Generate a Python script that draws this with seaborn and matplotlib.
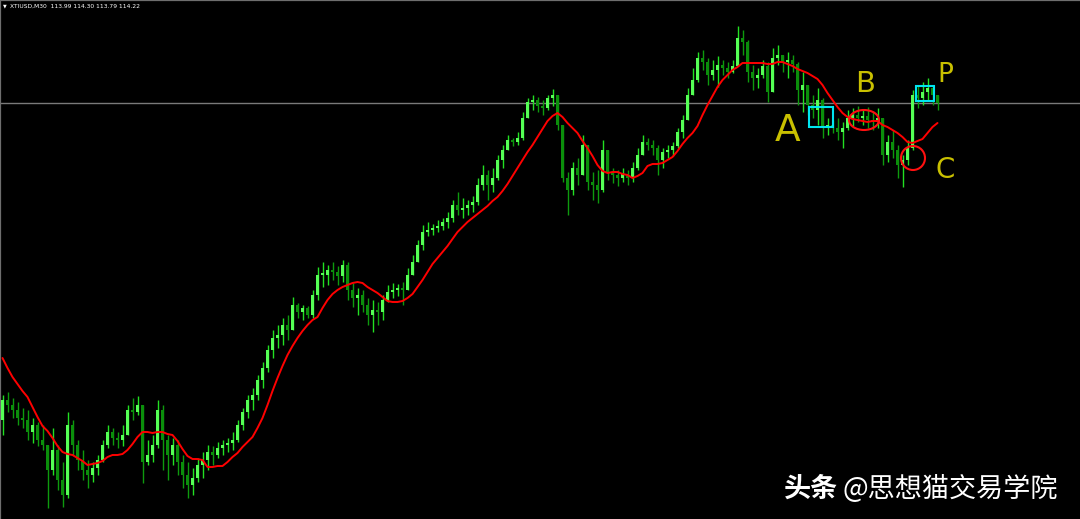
import numpy as np
import pandas as pd
import matplotlib.pyplot as plt
import matplotlib.patches as mpatches
import seaborn as sns

# XTIUSD M30 candles (prices)
first_open = 111.05
high = [111.30, 111.33, 111.27, 111.23, 111.17, 111.15, 111.07, 111.03, 111.00, 110.80,
        110.97, 110.80, 110.63, 111.13, 111.05, 110.85, 110.75, 110.65, 110.63, 110.70,
        110.85, 111.00, 110.97, 110.93, 111.00, 111.20, 111.27, 111.29, 111.20, 110.85,
        110.90, 111.25, 111.20, 110.90, 110.87, 110.85, 110.70, 110.63, 110.57, 110.67,
        110.73, 110.80, 110.79, 110.83, 110.85, 110.87, 110.93, 111.05, 111.17, 111.30,
        111.37, 111.50, 111.63, 111.80, 111.95, 112.00, 112.07, 112.10, 112.28, 112.22,
        112.20, 112.19, 112.35, 112.58, 112.63, 112.60, 112.63, 112.59, 112.65, 112.63,
        112.42, 112.37, 112.35, 112.27, 112.25, 112.23, 112.30, 112.40, 112.42, 112.41,
        112.43, 112.57, 112.70, 112.85, 113.00, 113.03, 113.01, 113.05, 113.07, 113.13,
        113.25, 113.33, 113.27, 113.25, 113.29, 113.47, 113.60, 113.55, 113.57, 113.70,
        113.80, 113.90, 113.87, 113.93, 114.13, 114.27, 114.30, 114.28, 114.25, 114.30,
        114.36, 114.27, 114.00, 113.53, 113.63, 113.67, 113.90, 113.75, 113.53, 113.55,
        113.85, 113.75, 113.57, 113.55, 113.57, 113.55, 113.63, 113.77, 113.90, 113.87,
        113.85, 113.80, 113.77, 113.80, 113.83, 113.97, 114.10, 114.37, 114.57, 114.73,
        114.75, 114.67, 114.65, 114.69, 114.65, 114.63, 114.65, 114.99, 114.95, 114.85,
        114.60, 114.57, 114.65, 114.63, 114.77, 114.80, 114.70, 114.73, 114.70, 114.63,
        114.53, 114.35, 114.30, 114.37, 114.27, 114.07, 114.05, 114.07, 114.03, 114.15,
        114.17, 114.19, 114.15, 114.18, 114.13, 114.17, 114.07, 113.90, 113.95, 113.80,
        113.70, 113.85, 114.35, 114.40, 114.43, 114.47, 114.40, 114.29]
low = [110.90, 111.13, 111.07, 111.00, 110.97, 110.85, 110.82, 110.79, 110.75, 110.17,
       110.50, 110.35, 110.18, 110.27, 110.70, 110.55, 110.45, 110.37, 110.43, 110.50,
       110.63, 110.77, 110.80, 110.77, 110.79, 110.95, 111.05, 111.10, 110.42, 110.60,
       110.63, 110.77, 110.55, 110.45, 110.60, 110.50, 110.37, 110.27, 110.30, 110.43,
       110.47, 110.55, 110.60, 110.67, 110.70, 110.73, 110.75, 110.83, 110.95, 111.07,
       111.15, 111.25, 111.37, 111.53, 111.67, 111.77, 111.80, 111.85, 112.05, 112.07,
       112.05, 112.07, 112.07, 112.25, 112.38, 112.40, 112.45, 112.40, 112.43, 112.25,
       112.18, 112.10, 112.13, 112.00, 111.93, 112.00, 112.05, 112.23, 112.27, 112.29,
       112.20, 112.37, 112.50, 112.63, 112.75, 112.89, 112.90, 112.93, 112.95, 112.97,
       113.03, 113.10, 113.07, 113.10, 113.13, 113.20, 113.35, 113.25, 113.33, 113.45,
       113.57, 113.77, 113.79, 113.80, 113.85, 114.07, 114.15, 114.13, 114.10, 114.15,
       114.19, 113.95, 113.43, 113.10, 113.30, 113.40, 113.53, 113.35, 113.25, 113.22,
       113.33, 113.45, 113.42, 113.39, 113.43, 113.40, 113.43, 113.55, 113.73, 113.75,
       113.70, 113.50, 113.57, 113.67, 113.69, 113.77, 113.87, 114.05, 114.30, 114.43,
       114.55, 114.40, 114.45, 114.38, 114.50, 114.47, 114.52, 114.63, 114.70, 114.43,
       114.35, 114.37, 114.47, 114.23, 114.35, 114.60, 114.53, 114.47, 114.53, 114.20,
       114.13, 114.10, 114.07, 114.00, 113.87, 113.90, 113.92, 113.85, 113.77, 113.95,
       113.99, 114.03, 114.00, 113.97, 113.95, 113.97, 113.60, 113.63, 113.67, 113.47,
       113.38, 113.60, 113.75, 114.17, 114.20, 114.25, 114.20, 114.15]
close = [111.25, 111.20, 111.15, 111.07, 111.05, 110.93, 111.00, 110.85, 110.80, 110.55,
         110.75, 110.45, 110.30, 111.00, 110.80, 110.65, 110.55, 110.50, 110.57, 110.65,
         110.80, 110.93, 110.87, 110.85, 110.90, 111.15, 111.13, 111.20, 110.63, 110.70,
         110.80, 111.15, 110.85, 110.70, 110.80, 110.63, 110.50, 110.40, 110.47, 110.60,
         110.65, 110.73, 110.70, 110.77, 110.80, 110.82, 110.85, 111.00, 111.13, 111.25,
         111.30, 111.45, 111.57, 111.75, 111.87, 111.90, 112.00, 111.95, 112.20, 112.13,
         112.17, 112.10, 112.30, 112.50, 112.50, 112.55, 112.53, 112.49, 112.60, 112.35,
         112.27, 112.30, 112.20, 112.10, 112.15, 112.13, 112.25, 112.33, 112.35, 112.37,
         112.35, 112.50, 112.63, 112.80, 112.93, 112.95, 112.97, 112.99, 113.03, 113.07,
         113.20, 113.15, 113.17, 113.20, 113.23, 113.40, 113.50, 113.40, 113.47, 113.65,
         113.75, 113.85, 113.83, 113.87, 114.07, 114.23, 114.25, 114.19, 114.17, 114.27,
         114.30, 114.00, 113.47, 113.35, 113.57, 113.50, 113.80, 113.43, 113.40, 113.35,
         113.75, 113.53, 113.50, 113.47, 113.51, 113.47, 113.57, 113.70, 113.83, 113.80,
         113.77, 113.65, 113.73, 113.75, 113.79, 113.93, 114.05, 114.30, 114.45, 114.67,
         114.63, 114.50, 114.55, 114.60, 114.57, 114.53, 114.59, 114.87, 114.83, 114.53,
         114.47, 114.50, 114.59, 114.33, 114.67, 114.70, 114.63, 114.65, 114.61, 114.35,
         114.40, 114.20, 114.15, 114.25, 113.97, 114.00, 113.97, 113.93, 113.97, 114.07,
         114.10, 114.07, 114.09, 114.05, 114.03, 114.07, 113.70, 113.83, 113.75, 113.60,
         113.65, 113.77, 114.30, 114.27, 114.33, 114.37, 114.30, 114.22]
# moving average (red line) as drawn on the chart
ma = [111.67, 111.57, 111.48, 111.41, 111.34, 111.28, 111.18, 111.08, 110.99, 110.94,
      110.87, 110.79, 110.73, 110.71, 110.70, 110.67, 110.64, 110.60, 110.61, 110.62,
      110.64, 110.68, 110.70, 110.70, 110.71, 110.75, 110.81, 110.88, 110.93, 110.93,
      110.92, 110.93, 110.93, 110.91, 110.90, 110.84, 110.76, 110.69, 110.66, 110.66,
      110.65, 110.58, 110.58, 110.59, 110.59, 110.63, 110.68, 110.72, 110.78, 110.83,
      110.88, 110.97, 111.07, 111.20, 111.34, 111.47, 111.59, 111.70, 111.79, 111.87,
      111.94, 112.00, 112.05, 112.08, 112.17, 112.25, 112.31, 112.35, 112.38, 112.40,
      112.42, 112.43, 112.42, 112.38, 112.35, 112.32, 112.28, 112.24, 112.23, 112.23,
      112.24, 112.27, 112.31, 112.38, 112.45, 112.53, 112.61, 112.67, 112.73, 112.79,
      112.86, 112.93, 112.98, 113.03, 113.07, 113.11, 113.15, 113.19, 113.24, 113.28,
      113.34, 113.41, 113.49, 113.57, 113.65, 113.73, 113.80, 113.88, 113.96, 114.04,
      114.09, 114.12, 114.08, 114.02, 113.97, 113.92, 113.84, 113.77, 113.69, 113.60,
      113.54, 113.52, 113.53, 113.53, 113.51, 113.50, 113.47, 113.49, 113.52, 113.59,
      113.61, 113.61, 113.62, 113.65, 113.68, 113.74, 113.81, 113.87, 113.92, 113.99,
      114.10, 114.20, 114.29, 114.38, 114.45, 114.50, 114.55, 114.58, 114.62, 114.62,
      114.62, 114.62, 114.62, 114.61, 114.61, 114.63, 114.63, 114.61, 114.59, 114.56,
      114.54, 114.52, 114.49, 114.46, 114.40, 114.32, 114.25, 114.18, 114.12, 114.08,
      114.06, 114.05, 114.04, 114.03, 114.04, 114.04, 114.00, 113.98, 113.95, 113.92,
      113.88, 113.83, 113.82, 113.84, 113.86, 113.92, 113.98, 114.02]
bid = 114.22
header = "XTIUSD,M30  113.99 114.30 113.79 114.22"

df = pd.DataFrame({"bar": np.arange(len(close)), "high": high, "low": low,
                   "close": close, "ma": ma})
df["open"] = [first_open] + close[:-1]

sns.set_theme(style="dark", rc={"axes.facecolor": "black", "figure.facecolor": "black"})
plt.rcParams["font.family"] = ["DejaVu Sans"]

fig = plt.figure(figsize=(10.8, 5.19), dpi=100)
ax = fig.add_axes([0, 0, 1, 1])
ax.set_facecolor("black")

up = df["close"] >= df["open"]
top = df[["high", "open", "close"]].max(axis=1)
bot = df[["low", "open", "close"]].min(axis=1)
ax.vlines(df["bar"], bot, top, colors=np.where(up, "#22e022", "#0e9a0e"), lw=1.0, zorder=2)
body = (df["close"] - df["open"]).abs().clip(lower=0.015)
ax.bar(df["bar"], body, bottom=df[["open", "close"]].min(axis=1), width=0.62,
       color=np.where(up, "#55ff55", "#0b8f0b"), lw=0, zorder=3)

sns.lineplot(data=df, x="bar", y="ma", color="#ff0000", lw=1.4, ax=ax,
             legend=False, zorder=4)
ax.axhline(bid, color="#7a7a7a", lw=1.0, zorder=1)

ax.set_xlim(-0.5, 215.5)
ax.set_ylim(110.06, 115.25)
ax.set_xticks([])
ax.set_yticks([])
ax.set_xlabel("")
ax.set_ylabel("")
for side in ["right", "bottom"]:
    ax.spines[side].set_visible(False)
for side in ["top", "left"]:
    ax.spines[side].set_visible(True)
    ax.spines[side].set_color("#6e6e6e")
    ax.spines[side].set_linewidth(1.6)

# header line
ax.text(3 / 1080, 1 - 6 / 519, "\u25bc", transform=ax.transAxes, color="white",
        fontsize=3.5, va="center", ha="left")
ax.text(10 / 1080, 1 - 6 / 519, header, transform=ax.transAxes, color="white",
        fontsize=4.3, va="center", ha="left")

# hand drawn marks
def px(x, y):
    return (x / 1080, 1 - y / 519)

yellow = "#c9c000"
for txt, (x, y), fs in [("A", (788, 131), 27), ("B", (865, 84), 21),
                        ("P", (945, 75), 19), ("C", (945, 170), 20)]:
    ax.text(*px(x, y), txt, transform=ax.transAxes, color=yellow, fontsize=fs,
            ha="center", va="center", zorder=6)

for (x0, y0, x1, y1) in [(809, 107, 833, 127), (916, 86, 934, 101)]:
    ax.add_patch(mpatches.Rectangle(px(x0, y1), (x1 - x0) / 1080, (y1 - y0) / 519,
                                    transform=ax.transAxes, fill=False,
                                    ec="#00e5f0", lw=1.5, zorder=6))
for (cx, cy, rx, ry) in [(864, 120, 15, 10), (913, 158, 12, 12)]:
    ax.add_patch(mpatches.Ellipse(px(cx, cy), 2 * rx / 1080, 2 * ry / 519,
                                  transform=ax.transAxes, fill=False,
                                  ec="#ff1010", lw=1.5, zorder=6))

# watermark
cjk = ["Noto Sans CJK SC", "DejaVu Sans"]
ax.text(*px(784, 489), "头条", transform=ax.transAxes, color="white", fontsize=19.5,
        fontweight="bold", family=cjk, va="center", ha="left")
ax.text(*px(843, 489), "@思想猫交易学院", transform=ax.transAxes, color="white",
        fontsize=19.5, family=cjk, va="center", ha="left")

fig.savefig("out.png", dpi=100, facecolor="black")
